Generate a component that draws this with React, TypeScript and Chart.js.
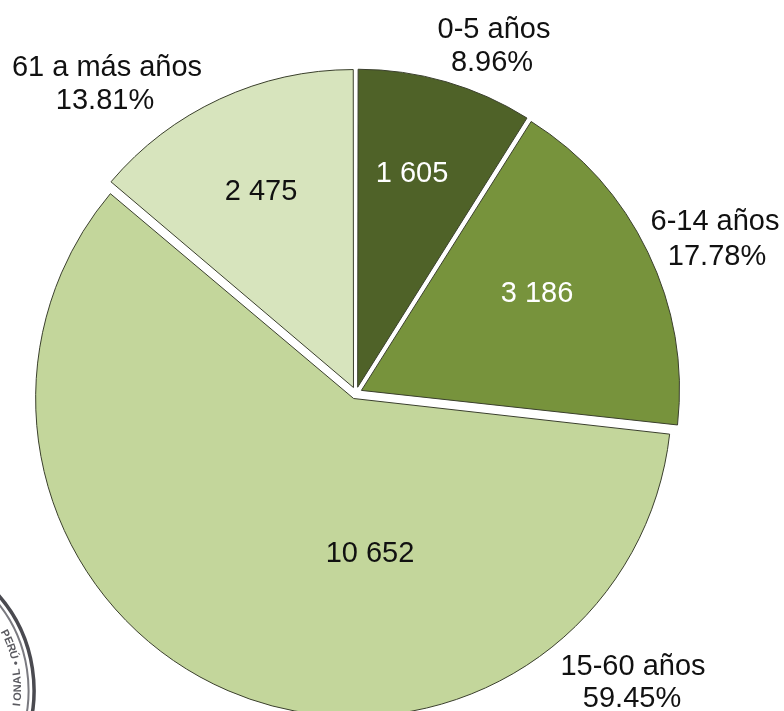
import React, { useEffect, useRef } from "react";
import { Chart, registerables } from "chart.js";

Chart.register(...registerables);

const ageGroups = ["0-5 años", "6-14 años", "15-60 años", "61 a más años"];
const counts = [1605, 3186, 10652, 2475];
const shares = ["8.96%", "17.78%", "59.45%", "13.81%"];
const sliceColors = ["#4F6228", "#77933C", "#C3D69B", "#D7E4BD"];
const valueColors = ["#FFFFFF", "#FFFFFF", "#111111", "#111111"];

const PIE_RADIUS = 318;
const SLICE_OFFSET = 24;
const FONT = '29px "Liberation Sans", Arial, sans-serif';

// Text anchors, relative to the pie centre
const valueAnchors = [[56, -219], [181, -99], [14, 161], [-95, -201]];
const nameAnchors = [[138, -363], [359, -171], [277, 274], [-249, -325]];
const shareAnchors = [[136, -330], [361, -136], [276, 306], [-251, -292]];

const formatCount = (n: number) => String(n).replace(/\B(?=(\d{3})+$)/g, " ");

const trueRadius = {
  id: "trueRadius",
  afterDatasetsUpdate(chart: any) {
    // Chart.js grows exploded arcs by a fraction of the offset: cancel that so all share one radius
    chart.getDatasetMeta(0).data.forEach((arc: any) => {
      const c = arc.circumference;
      const fix = 1 - Math.sin(Math.min(Math.PI, c));
      arc.outerRadius = PIE_RADIUS - (SLICE_OFFSET / 4) * fix;
    });
  },
};

const seal = {
  id: "seal",
  beforeDatasetsDraw(chart: any) {
    const ctx = chart.ctx;
    const cx = -110;
    const cy = 690;
    ctx.save();
    ctx.strokeStyle = "#4a4a50";
    ctx.lineWidth = 3.5;
    ctx.beginPath();
    ctx.arc(cx, cy, 144, -0.8, 0.5);
    ctx.stroke();
    ctx.strokeStyle = "#7a7a80";
    ctx.lineWidth = 2;
    ctx.beginPath();
    ctx.arc(cx, cy, 138.5, -0.8, 0.5);
    ctx.stroke();
    ctx.fillStyle = "#5a5a60";
    ctx.font = 'bold 11px "Liberation Sans", Arial, sans-serif';
    ctx.textAlign = "center";
    ctx.textBaseline = "middle";
    const word = (text: string, start: number, step: number, flip: boolean) => {
      [...text].forEach((ch, i) => {
        const a = start + i * step;
        ctx.save();
        ctx.translate(cx + 128 * Math.cos(a), cy + 128 * Math.sin(a));
        ctx.rotate(a + (flip ? -Math.PI / 2 : Math.PI / 2));
        ctx.fillText(ch, 0, 0);
        ctx.restore();
      });
    };
    word("PERÚ", -0.456, 0.06, false);
    word("•", -0.21, 0, false);
    word("IONAL", 0.115, -0.064, true);
    ctx.restore();
  },
};

const pieText = {
  id: "pieText",
  afterDatasetsDraw(chart: any) {
    const ctx = chart.ctx;
    const { x, y } = chart.getDatasetMeta(0).data[0];
    ctx.save();
    ctx.font = FONT;
    ctx.textAlign = "center";
    ctx.textBaseline = "middle";
    counts.forEach((n, i) => {
      ctx.fillStyle = valueColors[i];
      ctx.fillText(formatCount(n), x + valueAnchors[i][0], y + valueAnchors[i][1]);
      ctx.fillStyle = "#111111";
      ctx.fillText(ageGroups[i], x + nameAnchors[i][0], y + nameAnchors[i][1]);
      ctx.fillText(shares[i], x + shareAnchors[i][0], y + shareAnchors[i][1]);
    });
    ctx.restore();
  },
};

export default function App() {
  const ref = useRef<HTMLCanvasElement>(null);

  useEffect(() => {
    if (!ref.current) return;
    const chart = new Chart(ref.current, {
      type: "pie",
      data: {
        labels: ageGroups,
        datasets: [
          {
            data: counts,
            backgroundColor: sliceColors,
            borderColor: "#3a3f2c",
            borderWidth: 1,
            borderAlign: "center",
            offset: SLICE_OFFSET,
            hoverOffset: 0,
            clip: false,
          } as any,
        ],
      },
      options: {
        responsive: false,
        animation: false,
        radius: PIE_RADIUS,
        layout: { padding: { left: 0, top: 0, right: 72, bottom: 0 } },
        plugins: { legend: { display: false }, tooltip: { enabled: false } },
      } as any,
      plugins: [trueRadius, seal, pieText],
    });
    return () => chart.destroy();
  }, []);

  return (
    <div style={{ position: "fixed", left: 0, top: 0, width: 784, height: 711, overflow: "hidden", background: "#fff" }}>
      <canvas ref={ref} width={784} height={786} style={{ display: "block" }} />
    </div>
  );
}
